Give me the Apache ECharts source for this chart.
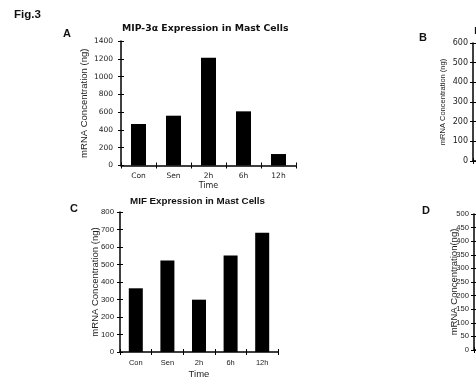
<!DOCTYPE html>
<html>
<head>
<meta charset="utf-8">
<script src="https://cdn.jsdelivr.net/npm/echarts@6/dist/echarts.min.js"></script>
<style>html,body{margin:0;padding:0;background:#fff}#c{width:476px;height:380px}</style>
</head>
<body>
<div id="c"></div>
<script>
var categories = ['Con', 'Sen', '2h', '6h', '12h'];
var mip3aValues = [467, 560, 1212, 609, 129];
var mifValues = [364, 523, 299, 551, 682];
var yTicksA = [0, 200, 400, 600, 800, 1000, 1200, 1400];
var yTicksB = [0, 100, 200, 300, 400, 500, 600];
var yTicksC = [0, 100, 200, 300, 400, 500, 600, 700, 800];
var yTicksD = [0, 50, 100, 150, 200, 250, 300, 350, 400, 450, 500];

var chart = echarts.init(document.getElementById('c'), null, {renderer: 'canvas'});

function yAx(grid, ticks, fam, fs, margin, name, nameFs, nameGap, nameFam) {
  var n = ticks.length;
  return [{
    type: 'value', gridIndex: grid, min: ticks[0], max: ticks[n - 1], interval: ticks[1] - ticks[0],
    position: 'left',
    axisLine: {show: true, lineStyle: {color: '#000', width: 1.5}},
    axisTick: {show: true, length: 3, lineStyle: {color: '#000', width: 1}},
    axisLabel: {color: '#222', fontFamily: fam, fontSize: fs, margin: margin, formatter: function (v) { return String(v); }},
    splitLine: {show: false},
    name: name, nameLocation: 'middle', nameGap: nameGap, nameMoveOverlap: false,
    nameTextStyle: {color: '#222', fontFamily: nameFam, fontSize: nameFs}
  }, {
    type: 'value', gridIndex: grid, min: ticks[0], max: ticks[n - 1], interval: ticks[1] - ticks[0],
    position: 'left',
    axisLine: {show: false},
    axisTick: {show: true, inside: true, length: 3, lineStyle: {color: '#000', width: 1}},
    axisLabel: {show: false}, splitLine: {show: false}
  }];
}
function xAx(grid, fam, fs, margin, nameFs, nameGap, showLabels) {
  return [{
    type: 'category', gridIndex: grid, data: categories, position: 'bottom',
    axisLine: {show: true, lineStyle: {color: '#000', width: 1.5}},
    axisTick: {show: true, length: 3, lineStyle: {color: '#000', width: 1}},
    axisLabel: {show: showLabels, color: '#222', fontFamily: fam, fontSize: fs, margin: margin},
    name: showLabels ? 'Time' : '', nameLocation: 'middle', nameGap: nameGap, nameMoveOverlap: false,
    nameTextStyle: {color: '#222', fontFamily: fam, fontSize: nameFs}
  }, {
    type: 'category', gridIndex: grid, data: categories, position: 'bottom',
    axisLine: {show: false},
    axisTick: {show: true, inside: true, length: 3, lineStyle: {color: '#000', width: 1}},
    axisLabel: {show: false}
  }];
}

var xAxes = [].concat(
  xAx(0, 'DejaVu Sans', 7.5, 7, 8, 16, true),
  xAx(1, 'Liberation Sans', 7.5, 7, 9.5, 17, true),
  xAx(2, 'DejaVu Sans', 7, 7, 8, 16, false),
  xAx(3, 'Liberation Sans', 7.5, 7, 9.5, 15, false)
);
var yAxes = [].concat(
  yAx(0, yTicksA, 'DejaVu Sans', 7.5, 8, 'mRNA Concentration (ng)', 9.5, 32, 'Liberation Sans'),
  yAx(1, yTicksC, 'Liberation Sans', 7.8, 6, 'mRNA Concentration (ng)', 9.5, 20, 'Liberation Sans'),
  yAx(2, yTicksB, 'DejaVu Sans', 8, 5, 'mRNA Concentration (ng)', 7.5, 26, 'Liberation Sans'),
  yAx(3, yTicksD, 'Liberation Sans', 7.6, 5, 'mRNA Concentration(ng)', 9.5, 15, 'Liberation Sans')
);

function ttl(text, left, top, fam, fs) {
  return {text: text, left: left, top: top, padding: 0,
    textStyle: {fontFamily: fam, fontWeight: 'bold', fontSize: fs, color: '#111'}};
}

var option = {
  animation: false,
  backgroundColor: '#fff',
  title: [
    ttl('Fig.3', 14, 9, 'Liberation Sans', 11.5),
    ttl('A', 63, 28, 'Liberation Sans', 11),
    ttl('B', 419, 32, 'Liberation Sans', 11),
    ttl('C', 70, 203, 'Liberation Sans', 11),
    ttl('D', 422, 205, 'Liberation Sans', 11),
    ttl('MIP-3\u03b1 Expression in Mast Cells', 122, 24, 'DejaVu Sans', 9.3),
    ttl('MIF Expression in Mast Cells', 130, 196, 'Liberation Sans', 9.8),
    ttl('MCP-1 Expression in Mast Cells', 474, 27, 'DejaVu Sans', 9.3)
  ],
  grid: [
    {left: 121, top: 41, width: 175, height: 124.5},
    {left: 120, top: 212, width: 158, height: 143.5},
    {left: 473, top: 43, width: 180, height: 118},
    {left: 474, top: 214, width: 180, height: 136}
  ],
  xAxis: xAxes,
  yAxis: yAxes,
  series: [
    {type: 'bar', xAxisIndex: 0, yAxisIndex: 0, data: mip3aValues, barWidth: 15, itemStyle: {color: '#000'}},
    {type: 'bar', xAxisIndex: 2, yAxisIndex: 2, data: mifValues, barWidth: 14, itemStyle: {color: '#000'}}
  ]
};
chart.setOption(option);
</script>
</body>
</html>
